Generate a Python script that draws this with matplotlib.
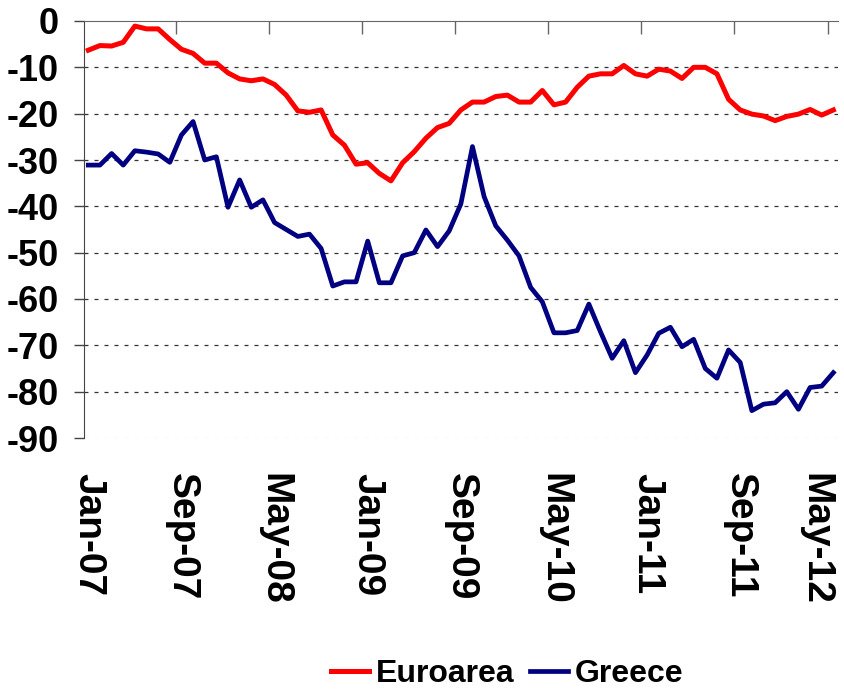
import matplotlib
matplotlib.use('Agg')
import matplotlib.pyplot as plt
import numpy as np

plt.rcParams['axes.unicode_minus'] = False

# monthly data Jan-07 .. May-12
months = ['Jan-07', 'Sep-07', 'May-08', 'Jan-09', 'Sep-09', 'May-10', 'Jan-11', 'Sep-11', 'May-12']

euroarea = [-6.3, -5.3, -5.4, -4.6, -1.1, -1.7, -1.7, -4.0, -6.1, -7.0,
            -9.1, -9.1, -11.2, -12.5, -12.9, -12.5, -13.7, -16.0, -19.4, -19.7,
            -19.2, -24.6, -26.8, -30.9, -30.6, -32.9, -34.5, -30.6, -28.2, -25.3,
            -23.0, -22.1, -19.2, -17.5, -17.5, -16.3, -16.0, -17.5, -17.5, -15.0,
            -18.1, -17.5, -14.3, -11.9, -11.4, -11.4, -9.6, -11.4, -11.9, -10.4,
            -10.8, -12.4, -10.0, -10.0, -11.4, -16.9, -19.2, -20.1, -20.5, -21.5,
            -20.6, -20.1, -19.1, -20.3, -19.2]

greece = [-31.1, -31.1, -28.6, -31.1, -28.0, -28.3, -28.7, -30.5, -24.6, -21.7,
          -30.0, -29.3, -40.2, -34.3, -40.2, -38.6, -43.5, -45.0, -46.5, -46.0,
          -49.1, -57.2, -56.3, -56.3, -47.5, -56.5, -56.5, -50.7, -50.0, -45.1,
          -48.7, -45.3, -39.5, -27.1, -37.9, -44.2, -47.3, -50.7, -57.5, -60.6,
          -67.3, -67.3, -66.8, -61.1, -67.1, -72.8, -69.0, -75.9, -72.1, -67.4,
          -66.1, -70.3, -68.7, -75.0, -77.1, -71.0, -73.7, -84.1, -82.7, -82.4,
          -80.0, -83.8, -79.1, -78.8, -75.9]

font = ['Liberation Sans', 'DejaVu Sans']

x = np.arange(len(euroarea))

fig = plt.figure(figsize=(8.44, 6.9), dpi=100)
ax = fig.add_axes([84/844, 1-438/690, (838-84)/844, (438-21)/690])

ax.plot(x, euroarea, color='#FF0000', lw=3.6, label='Euroarea')
ax.plot(x, greece, color='#000080', lw=3.4, label='Greece')

ax.set_xlim(-0.37, 64.4)
ax.set_ylim(-90, 0)

# dashed gridlines
for v in range(-80, 0, 10):
    ax.axhline(v, color='#333333', lw=0.9, dashes=(3.2, 4.8), zorder=0)
ax.axhline(-90, color='#dddddd', lw=0.9, dashes=(3.2, 4.8), zorder=0)

ax.spines['right'].set_visible(False)
ax.spines['bottom'].set_visible(False)
ax.spines['left'].set_color('#444444')
ax.spines['top'].set_color('#666666')

ax.set_yticks(range(-90, 1, 10))
ax.tick_params(axis='y', direction='out', length=7, width=1, color='#444444', pad=11)
for t in ax.get_yticklabels():
    t.set_family(font)
    t.set_fontweight('bold')
    t.set_fontsize(26)

ax.set_xticks(x[::8])
ax.set_xticklabels(months, rotation=-90, family=font, fontweight='bold', fontsize=28)
ax.get_xticklabels()[-1].set_ha('right')
ax.set_xticks(np.arange(7.5, 64, 8), minor=True)
ax.tick_params(axis='x', which='major', length=0, pad=25, bottom=True, top=False)
ax.tick_params(axis='x', which='minor', direction='in', length=9.5, width=1,
               color='#666666', top=True, bottom=False)

fig.legend(loc='center', bbox_to_anchor=(507/844, 1-674/690), ncol=2,
           frameon=False, handlelength=1.2, handletextpad=0.2, columnspacing=0.5,
           prop={'family': font, 'weight': 'bold', 'size': 23})

fig.savefig('out.png', dpi=100)
